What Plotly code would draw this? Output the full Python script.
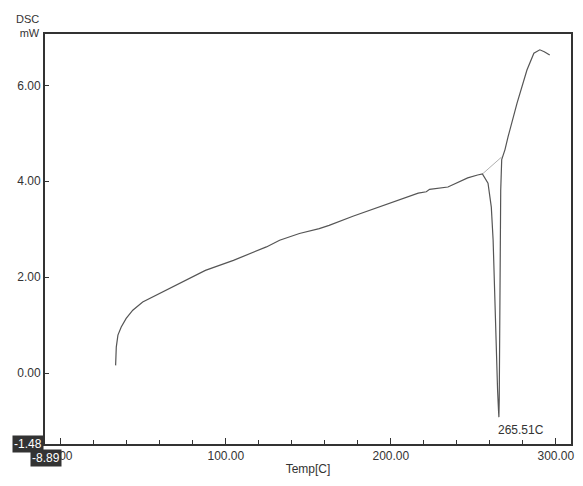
import plotly.graph_objects as go

# DSC trace: temperature [C] vs heat flow [mW]
temp = [33.2, 33.6, 34.6, 36.6, 39.6, 43.6, 49.6, 57.6, 67.6, 77.6, 87.6,
        104.6, 124.6, 132.6, 144.6, 156.6, 162.6, 177.0, 192.6, 205.0, 216.6,
        221.5, 223.5, 234.6, 246.6, 252.6, 255.5, 258.9, 260.9, 262.0, 262.7,
        263.6, 264.7, 265.3, 265.5, 265.7, 266.0, 266.3, 266.6, 267.2, 269.2,
        271.0, 276.5, 282.5, 286.7, 290.3, 293.0, 296.3]
dsc = [0.16, 0.54, 0.79, 0.96, 1.14, 1.31, 1.48, 1.62, 1.80, 1.97, 2.14,
       2.35, 2.63, 2.77, 2.91, 3.01, 3.08, 3.27, 3.46, 3.62, 3.75,
       3.78, 3.83, 3.88, 4.07, 4.13, 4.15, 3.96, 3.46, 2.77, 1.87,
       0.68, -0.36, -0.80, -0.92, -0.55, 0.80, 2.34, 3.80, 4.45, 4.66,
       4.92, 5.63, 6.32, 6.67, 6.74, 6.70, 6.63]

# baseline drawn under the melting peak
base_temp = [255.5, 267.0]
base_dsc = [4.15, 4.50]

y_ticks = [0.0, 2.0, 4.0, 6.0]
x_ticks = [0.0, 100.0, 200.0, 300.0]
x_range = [-9.6, 309.2]
y_range = [-1.48, 7.07]
corner_x, corner_y = "-8.89", "-1.48"
peak_temp = 265.51

ink = "#333333"
font = "Liberation Sans, Arial, sans-serif"

fig = go.Figure()
fig.add_trace(go.Scatter(x=base_temp, y=base_dsc, mode="lines",
                         line=dict(color="#b0b0b0", width=1)))
fig.add_trace(go.Scatter(x=temp, y=dsc, mode="lines",
                         line=dict(color="#555555", width=1.2)))

# page body adds 8px, so the figure is drawn 8px smaller than the window
fig.update_layout(
    width=575, height=478,
    margin=dict(l=35, r=9, t=26, b=42),
    paper_bgcolor="white", plot_bgcolor="white",
    showlegend=False,
    font=dict(family=font, size=12, color=ink),
    xaxis=dict(
        range=x_range, tickvals=x_ticks,
        ticktext=[f"{v:.2f}" for v in x_ticks],
        ticks="inside", ticklen=6, tickcolor=ink, tickwidth=1,
        minor=dict(dtick=20, tick0=0, ticks="inside", ticklen=4, tickcolor=ink),
        showgrid=False, zeroline=False,
        showline=True, mirror=True, linecolor=ink, linewidth=2,
        title=dict(text="Temp[C]", standoff=2, font=dict(size=12)),
    ),
    yaxis=dict(
        range=y_range, tickvals=y_ticks,
        ticktext=[f"{v:.2f}" for v in y_ticks],
        ticks="inside", ticklen=4, tickcolor=ink, tickwidth=1,
        showgrid=False, zeroline=False,
        showline=True, mirror=True, linecolor=ink, linewidth=2,
    ),
)

fig.add_annotation(xref="paper", yref="paper", x=0, y=1.0, text="DSC<br>mW",
                   showarrow=False, xanchor="right", yanchor="bottom",
                   align="right", xshift=-3, yshift=-7, font=dict(size=11))
fig.add_annotation(x=peak_temp, y=y_range[0], text=f"{peak_temp:.2f}C",
                   showarrow=False, xanchor="left", yanchor="bottom",
                   xshift=-3, yshift=5, font=dict(size=12))
fig.add_annotation(xref="paper", yref="paper", x=0, y=0, text=corner_y,
                   showarrow=False, xanchor="right", yanchor="middle", xshift=-1,
                   bgcolor=ink, font=dict(size=12, color="white"))
fig.add_annotation(xref="paper", yref="paper", x=0, y=0, text=corner_x,
                   showarrow=False, xanchor="center", yanchor="middle",
                   xshift=1, yshift=-14,
                   bgcolor=ink, font=dict(size=12, color="white"))

fig.write_html("out.html")
